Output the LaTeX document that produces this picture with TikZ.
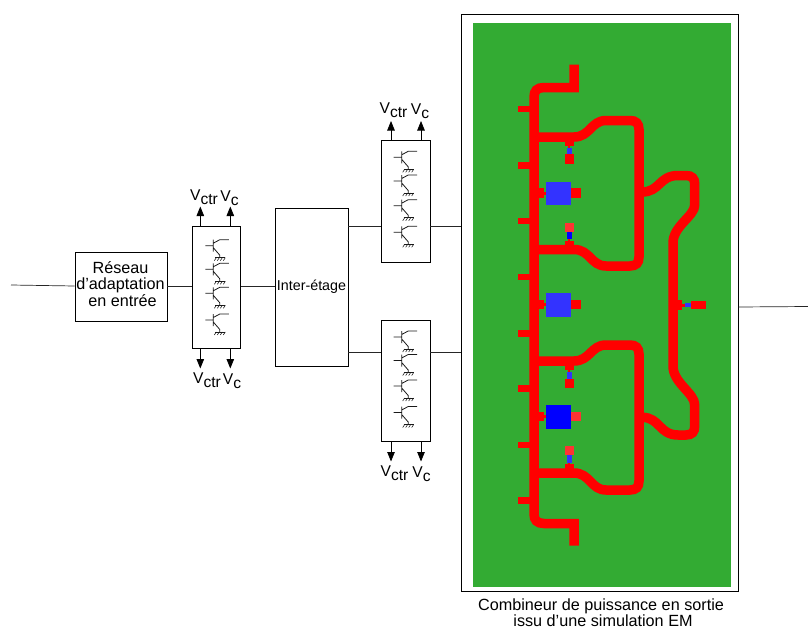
\documentclass[tikz,border=0pt]{standalone}
\usepackage{fontspec}
\setmainfont{Liberation Sans}
\usetikzlibrary{arrows.meta}
\definecolor{pcb}{HTML}{33AB33}
\definecolor{lred}{HTML}{FF3333}
\definecolor{lblue}{HTML}{3333FF}
\newcommand{\Vctr}{V\raisebox{-3.5pt}{ctr}}
\newcommand{\Vcc}{V\raisebox{-3.5pt}{c}}
\tikzset{
  box/.style={draw=black,line width=0.8pt,inner sep=0pt,align=center,font=\fontsize{14.3}{17.5}\selectfont},
  wire/.style={draw=black!85,line width=0.7pt},
  ctl/.style={draw=black,line width=0.8pt,-{Triangle[length=9.5pt,width=7.5pt]}},
  lab/.style={inner sep=0pt,font=\fontsize{16.2}{16.5}\selectfont},
  vlab/.style={inner sep=0pt,font=\fontsize{15.6}{16}\selectfont},
  trace/.style={draw=red,line width=9.5pt},
  transistor/.pic={
    \draw[line width=0.8pt,black!90]
      (-8,0) -- (0,0)
      (0,-6) -- (0,6)
      (0,-2.5) -- (6.5,-6) -- (15.5,-6)
      (0,2) -- (6.5,9.5) -- (6.5,12);
    \draw[line width=0.8pt,black!90] (2,12) -- (12,12);
    \foreach \k in {3,6,9,12} \draw[line width=0.55pt,black!90] (\k,12) -- (\k-2,15);
  }
}
\begin{document}
\begin{tikzpicture}[x=1pt,y=-1pt]
\useasboundingbox (0,0) rectangle (808,629);

% boxes
\node[box,minimum width=92pt,minimum height=69pt] (reseau) at (121,286.5) {};
\node[lab,align=center] (reseautxt) at (120.5,284) {Réseau\\d'adaptation\\\hspace*{4pt}en entrée};
\node[box,minimum width=48.5pt,minimum height=121.5pt] (t1) at (216.5,287.5) {};
\node[box,minimum width=73pt,minimum height=158pt] (inter) at (311.5,287) {Inter-étage};
\node[box,minimum width=49pt,minimum height=121.5pt] (t2) at (405.5,201.5) {};
\node[box,minimum width=49pt,minimum height=121.5pt] (t3) at (405.5,380.7) {};
\node[box,minimum width=277pt,minimum height=577pt] (em) at (599.5,302.5) {};
\fill[pcb] (473,23) rectangle (731,587);

% wires
\coordinate (in) at (11,285);
\coordinate (out) at (808,306.5);
\draw[wire] (in) -- (reseau.west |- 0,286);
\draw[wire] (reseau.east |- 0,286) -- (t1.west |- 0,286);
\draw[wire] (t1.east |- 0,286) -- (inter.west |- 0,286);
\draw[wire] (inter.east |- 0,226) -- (t2.west |- 0,226);
\draw[wire] (inter.east |- 0,352.5) -- (t3.west |- 0,352.5);
\draw[wire] (t2.east |- 0,226) -- (em.west |- 0,226);
\draw[wire] (t3.east |- 0,352.5) -- (em.west |- 0,352.5);
\draw[wire] (em.east |- 0,307) -- (out);

% transistors
\foreach \y in {245.7,269.3,293.3,320} \pic at (213.3,\y) {transistor};
\foreach \y in {157.3,181,205.7,232.3} \pic at (401.7,\y) {transistor};
\foreach \y in {337,360.5,386,412.5} \pic at (401.7,\y) {transistor};

% control arrows
\coordinate (a1) at (200.3,206.5); \coordinate (a2) at (230.3,206.5);
\coordinate (a3) at (200.3,368.5); \coordinate (a4) at (230.3,368.5);
\coordinate (a5) at (391,121); \coordinate (a6) at (421,121);
\coordinate (a7) at (391,461.5); \coordinate (a8) at (421,461.5);
\draw[ctl] (t1.north -| a1) -- (a1);
\draw[ctl] (t1.north -| a2) -- (a2);
\draw[ctl] (t1.south -| a3) -- (a3);
\draw[ctl] (t1.south -| a4) -- (a4);
\draw[ctl] (t2.north -| a5) -- (a5);
\draw[ctl] (t2.north -| a6) -- (a6);
\draw[ctl] (t3.south -| a7) -- (a7);
\draw[ctl] (t3.south -| a8) -- (a8);

% control labels
\node[vlab] (l1) at (204,197) {\Vctr};
\node[vlab] (l2) at (229.5,198) {\Vcc};
\node[vlab] (l3) at (207,380) {\Vctr};
\node[vlab] (l4) at (232,381) {\Vcc};
\node[vlab] (l5) at (393.5,110) {\Vctr};
\node[vlab] (l6) at (420,111) {\Vcc};
\node[vlab] (l7) at (394.5,473) {\Vctr};
\node[vlab] (l8) at (421.5,474) {\Vcc};

% caption
\node[lab,align=center] (cap) at (601,612.5) {Combineur de puissance en sortie\\\hspace*{4pt}issu d'une simulation EM};

% combiner layout: trunk and side stubs
\draw[trace] (574,64.5) -- (574,87.5) -- (544,87.5) .. controls (537,87.5) and (534,91) .. (534,97)
   -- (534,514) .. controls (534,520) and (537,523.5) .. (544,523.5) -- (574,523.5) -- (574,545.7);
\foreach \y in {105.7,162,217.7,273.7,330,385.3,441.7,497.3}
  \fill[red] (518.3,\y) rectangle (530,\y+6.7);

% branches
\foreach \a/\b/\c/\d in {137/120.5/266/249.5, 361/345/490/473}{
  \draw[trace] (534,\a) -- (574,\a)
     .. controls (590,\a) and (591,\b) .. (606,\b) -- (630,\b)
     .. controls (636,\b) and (639,\b+3) .. (639,\b+9)
     -- (639,\c-9) .. controls (639,\c-3) and (636,\c) .. (630,\c)
     -- (606,\c) .. controls (591,\c) and (590,\d) .. (574,\d) -- (534,\d);
}

% right-hand combining line
\draw[trace] (642,192) .. controls (660,192) and (659,175.5) .. (678,175.5) -- (686,175.5)
   .. controls (692,175.5) and (694.7,178.5) .. (694.7,184) -- (694.7,205)
   .. controls (694.7,216) and (673,226) .. (673,243) -- (673,366)
   .. controls (673,383) and (694.7,393) .. (694.7,405) -- (694.7,426)
   .. controls (694.7,432) and (692,435) .. (686,435) -- (678,435)
   .. controls (659,435) and (660,417.3) .. (642,417.3);

% branch stubs below the upper lines
\foreach \j/\tt/\bl/\rt/\rb in {141/145.7/147.7/154.3/164, 365/370/371.7/379/387.7}{
  \fill[red] (565,\j) rectangle (574,\tt);
  \fill[red] (567.7,\tt) rectangle (570.3,\bl);
  \fill[lblue] (567,\bl) rectangle (572,\rt);
  \fill[red] (565,\rt) rectangle (574,\rb);
}
% stubs above the lower lines
\fill[red] (565,241) rectangle (574,246);
\fill[red] (567.7,239) rectangle (570.3,241);
\fill[blue] (567,231.7) rectangle (572,239);
\fill[lred] (565,222.7) rectangle (574,231.7);
\fill[red] (565,464.3) rectangle (574,469);
\fill[red] (567.7,462.7) rectangle (570.3,464.3);
\fill[lblue] (567,455.3) rectangle (572,462.7);
\fill[lred] (565,446.3) rectangle (574,455.3);

% square elements
\foreach \t/\c/\r in {181.7/lblue/red, 293.3/lblue/red, 405.3/blue/lred}{
  \fill[red] (538,\t+6.7) rectangle (544,\t+16);
  \fill[red] (544,\t+10) rectangle (546,\t+13);
  \fill[\c] (546,\t) rectangle (571,\t+23.4);
  \fill[\r] (571,\t+6.7) rectangle (581,\t+16);
}

% output stub
\fill[red] (677,300.3) rectangle (682.3,310);
\fill[red] (682.3,304) rectangle (685,306.5);
\fill[lblue] (685,303.3) rectangle (691.3,307);
\fill[red] (691.3,301) rectangle (705.7,309.3);
\end{tikzpicture}
\end{document}
